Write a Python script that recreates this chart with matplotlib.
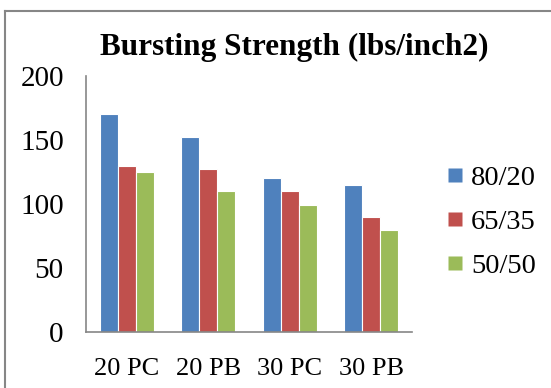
import numpy as np
import matplotlib.pyplot as plt
from matplotlib.lines import Line2D

categories = ["20 PC", "20 PB", "30 PC", "30 PB"]
series = ["80/20", "65/35", "50/50"]
vals_80_20 = [170, 152, 120, 115]
vals_65_35 = [130, 127, 110, 90]
vals_50_50 = [125, 110, 99, 80]
colors = ["#4F81BD", "#C0504D", "#9BBB59"]

plt.rcParams['font.family'] = ['Liberation Serif', 'DejaVu Serif']

fig = plt.figure(figsize=(5.51, 3.88), dpi=100)
ax = fig.add_axes([86 / 551, 1 - 332 / 388, 326 / 551, 256 / 388])

x = np.arange(len(categories))
w = 0.22
for i, (name, vals) in enumerate(zip(series, [vals_80_20, vals_65_35, vals_50_50])):
    ax.bar(x + (i - 1) * w, vals, width=w, color=colors[i], edgecolor="white",
           linewidth=0.8, label=name, zorder=2)

ax.set_xlim(-0.5, 3.5)
ax.set_ylim(0, 200)
ax.set_yticks([0, 50, 100, 150, 200])
ax.set_xticks(x)
ax.set_xticklabels(categories)
ax.tick_params(axis="both", length=0)
ax.tick_params(axis="x", pad=19, labelsize=19)
ax.tick_params(axis="y", pad=16, labelsize=21)
for s in ["top", "right"]:
    ax.spines[s].set_visible(False)
for s in ["left", "bottom"]:
    ax.spines[s].set_color("#868686")
    ax.spines[s].set_linewidth(1.2)

fig.text(294 / 551, 1 - 47 / 388, "Bursting Strength (lbs/inch2)", ha="center",
         va="center", fontsize=22.5, fontweight="bold")

# legend
handles = [Line2D([], [], marker="s", linestyle="none", markersize=9.5,
                  markerfacecolor=c, markeredgecolor="none") for c in colors]
leg = fig.legend(handles, series, loc="center left", bbox_to_anchor=(444 / 551, 1 - 222 / 388),
                 frameon=False, fontsize=20.5, handletextpad=0.15, labelspacing=0.62,
                 handlelength=0.8, borderpad=0, borderaxespad=0)

# outer border (top and left only visible)
fig.add_artist(Line2D([5 / 551, 5 / 551], [0, 1 - 11 / 388], color="#868686",
                      linewidth=1.5, transform=fig.transFigure))
fig.add_artist(Line2D([5 / 551, 1], [1 - 11 / 388, 1 - 11 / 388], color="#868686",
                      linewidth=1.5, transform=fig.transFigure))

fig.savefig("out.png", dpi=100)
